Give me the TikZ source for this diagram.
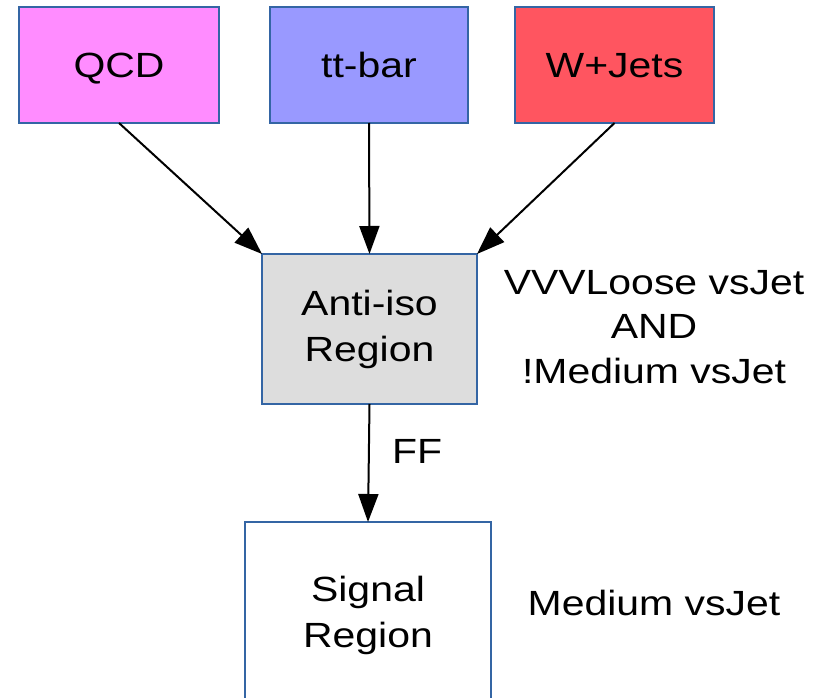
\documentclass[tikz,border=0pt]{standalone}
\usepackage{fontspec}
\setmainfont[FakeStretch=1.17]{Liberation Sans}
\usetikzlibrary{arrows.meta}
\definecolor{bord}{HTML}{3465A4}
\definecolor{qcdfill}{HTML}{FF8CFF}
\definecolor{ttfill}{HTML}{9999FF}
\definecolor{wjfill}{HTML}{FF5560}
\definecolor{antifill}{HTML}{DDDDDD}
\begin{document}
\begin{tikzpicture}[x=1pt,y=-1pt,
  box/.style={draw=bord, line width=1.5pt, inner sep=0pt, outer sep=0pt, align=center,
    font=\fontsize{35}{46}\selectfont},
  topbox/.style={box, minimum height=116pt, text height=25pt, text depth=-5pt},
  lbl/.style={inner sep=0pt, align=center, font=\fontsize{35}{44.5}\selectfont},
  arr/.style={line width=2pt, -{Triangle[length=28pt,width=20pt]}}]
\useasboundingbox (0,0) rectangle (817,698);
\node[topbox, fill=qcdfill, minimum width=200pt] (qcd) at (119,65) {QCD};
\node[topbox, fill=ttfill, minimum width=198pt] (tt) at (369,65) {tt-bar};
\node[topbox, fill=wjfill, minimum width=199pt] (wj) at (614.5,65) {W+Jets};
\node[box, fill=antifill, minimum width=215pt, minimum height=150pt] (anti) at (369.5,329) {Anti-iso\\Region};
\node[box, fill=white, minimum width=246pt, minimum height=186pt] (sig) at (368,615) {Signal\\Region};
\draw[arr] (qcd.south) -- (anti.north west);
\draw[arr] (tt.south) -- (anti.north);
\draw[arr] (wj.south) -- (anti.north east);
\draw[arr] (anti.south) -- (sig.north);
\node[lbl, anchor=base west] (ff) at (392,463) {FF};
\node[lbl] (cond) at (654,327) {VVVLoose vsJet\\AND\\!Medium vsJet};
\node[lbl, anchor=base] (med) at (654,615) {Medium vsJet};
\end{tikzpicture}
\end{document}
